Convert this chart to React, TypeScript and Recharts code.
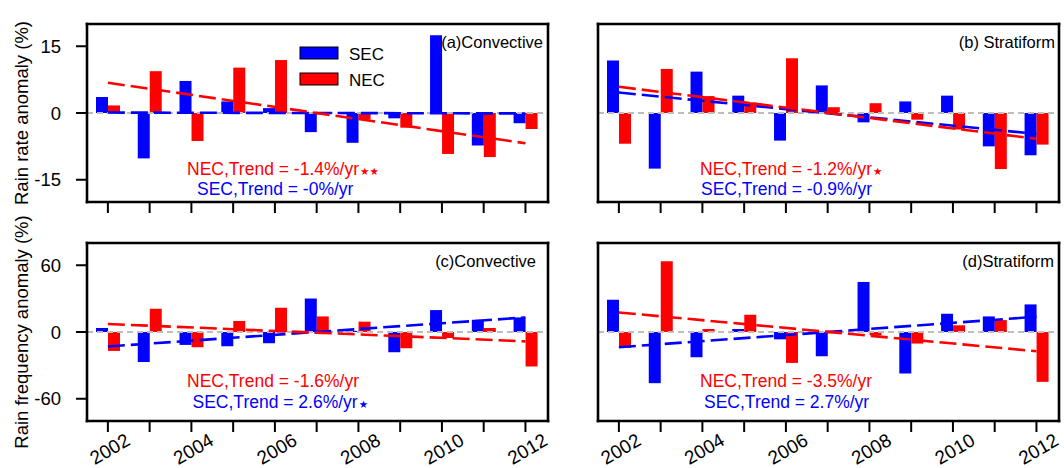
import React from "react";
import { Bar, ComposedChart, ReferenceLine, XAxis, YAxis } from "recharts";

// years on the x axis
const YEARS = [2002, 2003, 2004, 2005, 2006, 2007, 2008, 2009, 2010, 2011, 2012];
const TREND_YEARS = [2002, 2012];
const RATE_TICKS = [-15, 0, 15];
const FREQ_TICKS = [-60, 0, 60];

// (a) convective rain rate anomaly (%)
const CONV_RATE_SEC = [3.6, -10.2, 7.2, 2.6, 1.1, -4.3, -6.7, -1.2, 17.5, -7.3, -2.3];
const CONV_RATE_NEC = [1.7, 9.4, -6.3, 10.2, 11.9, -0.3, -1.5, -3.3, -9.2, -9.9, -3.6];
const CONV_RATE_TREND_SEC = [0.1, -0.1];
const CONV_RATE_TREND_NEC = [6.8, -6.8];

// (b) stratiform rain rate anomaly (%)
const STRAT_RATE_SEC = [11.8, -12.5, 9.3, 3.9, -6.2, 6.2, -2.1, 2.6, 3.9, -7.5, -9.5];
const STRAT_RATE_NEC = [-6.9, 9.9, 3.8, 2.4, 12.3, 1.3, 2.2, -1.5, -3.7, -12.6, -7.1];
const STRAT_RATE_TREND_SEC = [4.6, -4.7];
const STRAT_RATE_TREND_NEC = [5.9, -5.8];

// (c) convective rain frequency anomaly (%)
const CONV_FREQ_SEC = [3.6, -27, -11.6, -12.8, -10.1, 30.1, 1, -18.2, 19.7, 11, 13.1];
const CONV_FREQ_NEC = [-17, 20.9, -13.7, 9.9, 21.8, 14, 9.3, -14.6, -5.4, 3.6, -31];
const CONV_FREQ_TREND_SEC = [-13, 13.1];
const CONV_FREQ_TREND_NEC = [7.2, -8.4];

// (d) stratiform rain frequency anomaly (%)
const STRAT_FREQ_SEC = [29, -46, -22.7, 2.7, -6.6, -21.8, 45, -37.3, 16.4, 14, 24.8];
const STRAT_FREQ_NEC = [-14.3, 63.6, 2.7, 15.5, -27.8, -0.5, -3, -10.4, 6, 10.7, -44.8];
const STRAT_FREQ_TREND_SEC = [-13.7, 13.7];
const STRAT_FREQ_TREND_NEC = [17.6, -17.3];

const FONT = "'Liberation Sans', Arial, Helvetica, sans-serif";
const BLUE = "#0000ff";
const RED = "#ff0000";
const ZERO = "#bdbdbd";
const X_DOMAIN: [number, number] = [2001.5, 2012.54];

const AXIS_LINE = { stroke: "#000", strokeWidth: 2.6, strokeLinecap: "square" as const };
const TICK_LINE = { stroke: "#000", strokeWidth: 2 };

function YearTick(props: any) {
  const { x, y, payload, show } = props;
  if (!show || payload.value % 2 !== 0) return <g />;
  const cx = x + 2;
  const cy = y + 15;
  return (
    <text
      x={cx}
      y={cy}
      textAnchor="middle"
      dominantBaseline="central"
      transform={`rotate(-30 ${cx} ${cy})`}
      fontSize={19}
      fontFamily={FONT}
      fill="#000"
    >
      {payload.value}
    </text>
  );
}

interface PanelProps {
  left: number;
  top: number;
  width: number;
  height: number;
  yLeft: number;
  yRight: number;
  xBottom: number;
  sec: number[];
  nec: number[];
  trendSec: number[];
  trendNec: number[];
  yDomain: [number, number];
  yTicks: number[];
  yLabels: boolean;
  xLabels: boolean;
}

function Panel(p: PanelProps) {
  const data = YEARS.map((year, i) => ({ year, sec: p.sec[i], nec: p.nec[i] }));
  const segSec = TREND_YEARS.map((x, i) => ({ x, y: p.trendSec[i] }));
  const segNec = TREND_YEARS.map((x, i) => ({ x, y: p.trendNec[i] }));
  return (
    <div style={{ position: "absolute", left: p.left, top: p.top }}>
      <ComposedChart
        width={p.width}
        height={p.height}
        data={data}
        barGap={0}
        margin={{ top: 0, right: 0, bottom: 0, left: 0 }}
      >
        <XAxis
          dataKey="year"
          type="number"
          domain={X_DOMAIN}
          ticks={YEARS}
          height={p.xBottom}
          axisLine={AXIS_LINE}
          tickLine={TICK_LINE}
          tickSize={11}
          interval={0}
          tick={<YearTick show={p.xLabels} />}
        />
        <XAxis
          xAxisId="top"
          orientation="top"
          type="number"
          domain={X_DOMAIN}
          ticks={YEARS}
          height={24}
          axisLine={AXIS_LINE}
          tickLine={TICK_LINE}
          tickSize={11}
          interval={0}
          tick={false}
        />
        <YAxis
          type="number"
          domain={p.yDomain}
          ticks={p.yTicks}
          width={p.yLeft}
          axisLine={AXIS_LINE}
          tickLine={TICK_LINE}
          tickSize={11}
          tickMargin={15}
          interval={0}
          tick={p.yLabels ? { fontSize: 18.5, fill: "#000", fontFamily: FONT } : false}
        />
        <YAxis
          yAxisId="right"
          orientation="right"
          type="number"
          domain={p.yDomain}
          ticks={p.yTicks}
          width={p.yRight}
          axisLine={AXIS_LINE}
          tickLine={TICK_LINE}
          tickSize={11}
          interval={0}
          tick={false}
        />
        <ReferenceLine y={0} stroke={ZERO} strokeWidth={1.8} strokeDasharray="6 4" />
        <Bar dataKey="sec" fill={BLUE} barSize={12} isAnimationActive={false} />
        <Bar dataKey="nec" fill={RED} barSize={12} isAnimationActive={false} />
        <ReferenceLine segment={segSec} stroke={BLUE} strokeWidth={2.6} strokeDasharray="17 6" />
        <ReferenceLine segment={segNec} stroke={RED} strokeWidth={2.6} strokeDasharray="17 6" />
      </ComposedChart>
    </div>
  );
}

const TXT = { fontFamily: FONT };

// significance stars after a trend value
function Stars({ n }: { n: number }) {
  return (
    <tspan fontSize={10.5} fontFamily="'DejaVu Sans', sans-serif" dx={1}>
      {"★".repeat(n)}
    </tspan>
  );
}

export default function App() {
  return (
    <div
      style={{
        position: "absolute",
        left: 0,
        top: 0,
        width: 1064,
        height: 468,
        overflow: "hidden",
        background: "#fff",
        fontFamily: FONT,
      }}
    >
      <Panel
        left={0} top={0} width={575} height={230} yLeft={87} yRight={27} xBottom={28}
        sec={CONV_RATE_SEC} nec={CONV_RATE_NEC}
        trendSec={CONV_RATE_TREND_SEC} trendNec={CONV_RATE_TREND_NEC}
        yDomain={[-20, 20]} yTicks={RATE_TICKS} yLabels xLabels={false}
      />
      <Panel
        left={560} top={0} width={504} height={230} yLeft={38} yRight={5} xBottom={28}
        sec={STRAT_RATE_SEC} nec={STRAT_RATE_NEC}
        trendSec={STRAT_RATE_TREND_SEC} trendNec={STRAT_RATE_TREND_NEC}
        yDomain={[-20, 20]} yTicks={RATE_TICKS} yLabels={false} xLabels={false}
      />
      <Panel
        left={0} top={219} width={575} height={249} yLeft={87} yRight={27} xBottom={47}
        sec={CONV_FREQ_SEC} nec={CONV_FREQ_NEC}
        trendSec={CONV_FREQ_TREND_SEC} trendNec={CONV_FREQ_TREND_NEC}
        yDomain={[-80, 80]} yTicks={FREQ_TICKS} yLabels xLabels
      />
      <Panel
        left={560} top={219} width={504} height={249} yLeft={38} yRight={5} xBottom={47}
        sec={STRAT_FREQ_SEC} nec={STRAT_FREQ_NEC}
        trendSec={STRAT_FREQ_TREND_SEC} trendNec={STRAT_FREQ_TREND_NEC}
        yDomain={[-80, 80]} yTicks={FREQ_TICKS} yLabels={false} xLabels
      />

      {/* annotations, legend and axis titles */}
      <svg
        width={1064}
        height={468}
        style={{ position: "absolute", left: 0, top: 0, pointerEvents: "none" }}
      >
        <text
          x={21.5} y={113} transform="rotate(-90 21.5 113)" textAnchor="middle"
          dominantBaseline="central" fontSize={18.5} style={TXT}
        >
          Rain rate anomaly (%)
        </text>
        <text
          x={21.5} y={332} transform="rotate(-90 21.5 332)" textAnchor="middle"
          dominantBaseline="central" fontSize={18.5} style={TXT}
        >
          Rain frequency anomaly (%)
        </text>

        {/* legend in panel (a) */}
        <rect x={300} y={47} width={38} height={12} fill={BLUE} stroke="#000" strokeWidth={1} />
        <rect x={300} y={73} width={38} height={12} fill={RED} stroke="#000" strokeWidth={1} />
        <text x={349} y={59.5} fontSize={17} style={TXT}>SEC</text>
        <text x={349} y={85.5} fontSize={17} style={TXT}>NEC</text>

        {/* panel labels */}
        <text x={543} y={47.5} textAnchor="end" fontSize={16.5} style={TXT}>(a)Convective</text>
        <text x={1055} y={47.5} textAnchor="end" fontSize={16.5} style={TXT}>(b) Stratiform</text>
        <text x={536} y={267} textAnchor="end" fontSize={16.5} style={TXT}>(c)Convective</text>
        <text x={1054} y={267} textAnchor="end" fontSize={16.5} style={TXT}>(d)Stratiform</text>

        {/* trend annotations */}
        <text x={187} y={175} fontSize={17.5} fill={RED} style={TXT}>
          NEC,Trend = -1.4%/yr<Stars n={2} />
        </text>
        <text x={197} y={195} fontSize={17.5} fill={BLUE} style={TXT}>SEC,Trend = -0%/yr</text>
        <text x={700} y={175} fontSize={17.5} fill={RED} style={TXT}>
          NEC,Trend = -1.2%/yr<Stars n={1} />
        </text>
        <text x={701} y={195} fontSize={17.5} fill={BLUE} style={TXT}>SEC,Trend = -0.9%/yr</text>
        <text x={187} y={386.5} fontSize={17.5} fill={RED} style={TXT}>NEC,Trend = -1.6%/yr</text>
        <text x={192.5} y={408} fontSize={17.5} fill={BLUE} style={TXT}>
          SEC,Trend = 2.6%/yr<Stars n={1} />
        </text>
        <text x={700} y={386.5} fontSize={17.5} fill={RED} style={TXT}>NEC,Trend = -3.5%/yr</text>
        <text x={704} y={408} fontSize={17.5} fill={BLUE} style={TXT}>SEC,Trend = 2.7%/yr</text>
      </svg>
    </div>
  );
}
